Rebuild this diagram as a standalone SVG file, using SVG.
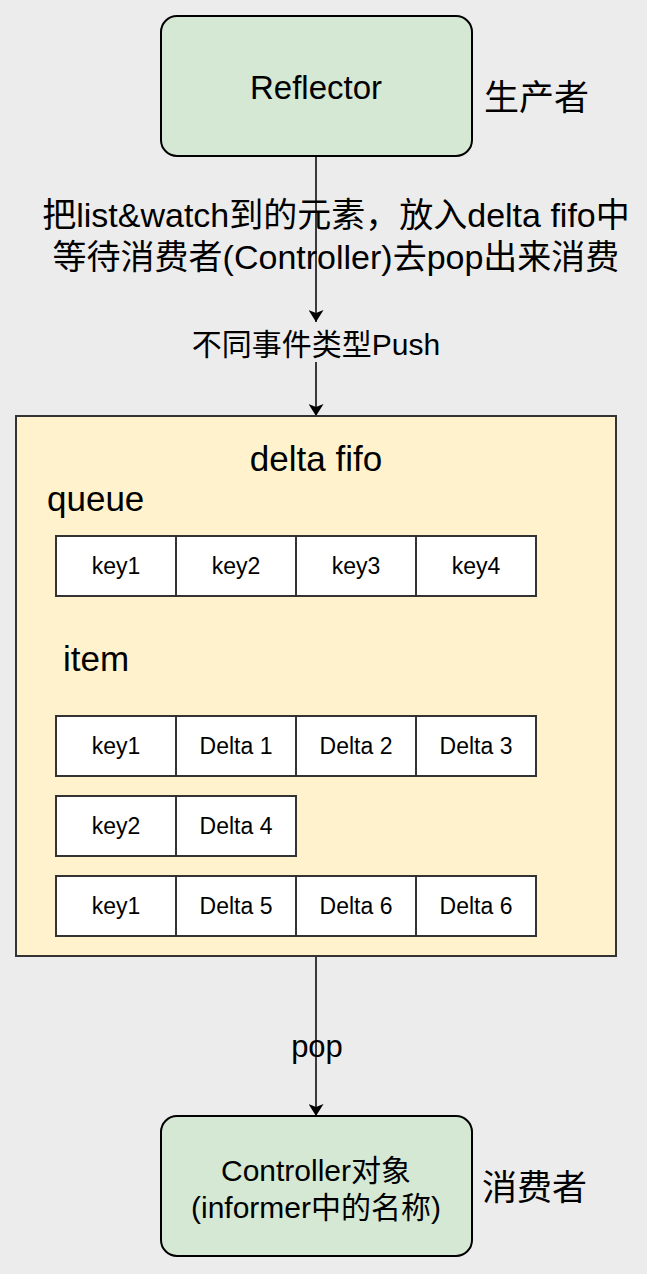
<svg xmlns="http://www.w3.org/2000/svg" width="647" height="1274" viewBox="0 0 647 1274">
<defs>
<style>
text{font-family:"Liberation Sans","Noto Sans CJK SC",sans-serif;fill:#000;dominant-baseline:central}
.mid{text-anchor:middle}
.node{fill:#d5e8d4;stroke:#000;stroke-width:2}
.fifo{fill:#fff2cc;stroke:#333;stroke-width:2}
.cell{fill:#fff;stroke:#333;stroke-width:2}
.cellt{font-size:23px;text-anchor:middle}
.edge{stroke:#000;stroke-width:1.5;fill:none}
</style>
<marker id="arr" viewBox="0 0 12 15" refX="12" refY="7.5" markerWidth="12" markerHeight="15" markerUnits="userSpaceOnUse" orient="auto">
<path d="M0,0 L12,7.5 L0,15 L3,7.5 Z" fill="#000"/>
</marker>
</defs>
<rect width="647" height="1274" fill="#ececec"/>

<g id="connectors">
<line class="edge" x1="316" y1="156" x2="316" y2="322" marker-end="url(#arr)"/>
<line class="edge" x1="316" y1="362" x2="316" y2="416" marker-end="url(#arr)"/>
<line class="edge" x1="316" y1="956" x2="316" y2="1116" marker-end="url(#arr)"/>
<g id="label-listwatch">
<text class="mid" x="336" y="215" font-size="34">把list&amp;watch到的元素，放入delta fifo中</text>
<text class="mid" x="336" y="257" font-size="34">等待消费者(Controller)去pop出来消费</text>
</g>
<text id="label-pop" class="mid" x="317" y="1046" font-size="31">pop</text>
</g>

<g id="reflector">
<rect class="node" x="161" y="16" width="311" height="140" rx="16"/>
<text class="mid" x="316" y="87" font-size="33">Reflector</text>
</g>
<g id="producer-label">
<text x="484" y="97" font-size="35">生产者</text>
</g>

<g id="push-label">
<text class="mid" x="316" y="344" font-size="30">不同事件类型Push</text>
</g>

<g id="delta-fifo">
<rect class="fifo" x="16" y="416" width="600" height="540"/>
<text class="mid" x="316" y="458" font-size="35">delta fifo</text>
<text x="47" y="498" font-size="35">queue</text>
<text x="63" y="658" font-size="35">item</text>
</g>

<g id="queue">
<rect class="cell" x="56" y="536" width="120" height="60"/>
<rect class="cell" x="176" y="536" width="120" height="60"/>
<rect class="cell" x="296" y="536" width="120" height="60"/>
<rect class="cell" x="416" y="536" width="120" height="60"/>
<text class="cellt" x="116" y="566">key1</text>
<text class="cellt" x="236" y="566">key2</text>
<text class="cellt" x="356" y="566">key3</text>
<text class="cellt" x="476" y="566">key4</text>
</g>

<g id="item-row1">
<rect class="cell" x="56" y="716" width="120" height="60"/>
<rect class="cell" x="176" y="716" width="120" height="60"/>
<rect class="cell" x="296" y="716" width="120" height="60"/>
<rect class="cell" x="416" y="716" width="120" height="60"/>
<text class="cellt" x="116" y="746">key1</text>
<text class="cellt" x="236" y="746">Delta 1</text>
<text class="cellt" x="356" y="746">Delta 2</text>
<text class="cellt" x="476" y="746">Delta 3</text>
</g>

<g id="item-row2">
<rect class="cell" x="56" y="796" width="120" height="60"/>
<rect class="cell" x="176" y="796" width="120" height="60"/>
<text class="cellt" x="116" y="826">key2</text>
<text class="cellt" x="236" y="826">Delta 4</text>
</g>

<g id="item-row3">
<rect class="cell" x="56" y="876" width="120" height="60"/>
<rect class="cell" x="176" y="876" width="120" height="60"/>
<rect class="cell" x="296" y="876" width="120" height="60"/>
<rect class="cell" x="416" y="876" width="120" height="60"/>
<text class="cellt" x="116" y="906">key1</text>
<text class="cellt" x="236" y="906">Delta 5</text>
<text class="cellt" x="356" y="906">Delta 6</text>
<text class="cellt" x="476" y="906">Delta 6</text>
</g>

<g id="controller">
<rect class="node" x="161" y="1116" width="311" height="140" rx="16"/>
<text class="mid" x="316" y="1170" font-size="30">Controller对象</text>
<text class="mid" x="316" y="1207" font-size="30">(informer中的名称)</text>
</g>
<g id="consumer-label">
<text x="482" y="1187" font-size="35">消费者</text>
</g>
</svg>
